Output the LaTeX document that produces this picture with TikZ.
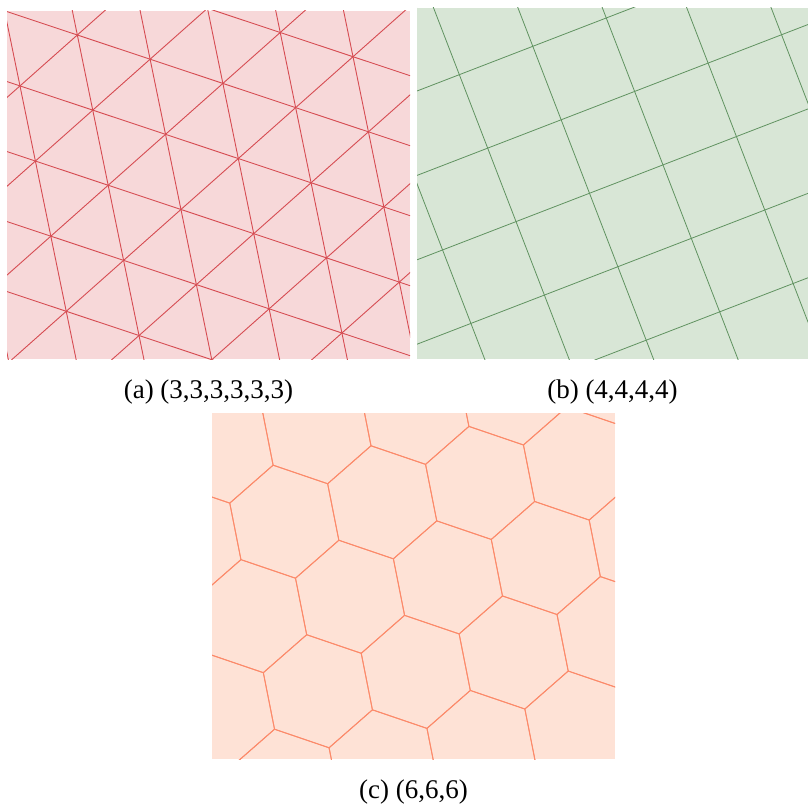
\documentclass[tikz,border=0pt]{standalone}
\usepackage{fontspec}
\setmainfont{Liberation Serif}
\usepackage{tikz}
\definecolor{trifill}{RGB}{247,216,217}
\definecolor{trired}{RGB}{214,76,82}
\definecolor{sqfill}{RGB}{216,230,214}
\definecolor{sqgreen}{RGB}{96,146,96}
\definecolor{hexfill}{RGB}{254,226,214}
\definecolor{hexsalmon}{RGB}{252,138,106}

\begin{document}
\begin{tikzpicture}[
  x=1pt,y=-1pt,
  panel/.style={draw=none,inner sep=0pt,outer sep=0pt,anchor=north west},
  caption/.style={font=\fontsize{27}{31}\selectfont,anchor=base,inner sep=0pt},
  triline/.style={draw=trired,line width=0.9pt},
  sqline/.style={draw=sqgreen,line width=0.8pt},
  hexline/.style={draw=hexsalmon,line width=0.9pt,line join=round}
]
\useasboundingbox (0,0) rectangle (808,805);

% the three panels
\node[panel,fill=trifill,minimum width=403pt,minimum height=348pt] (pa) at (7,11) {};
\node[panel,fill=sqfill,minimum width=391pt,minimum height=351pt] (pb) at (417,8) {};
\node[panel,fill=hexfill,minimum width=403pt,minimum height=346pt] (pc) at (212,413) {};

% (a) triangles
\begin{scope}
  \clip (pa.north west) rectangle (pa.south east);
  \begin{scope}[shift={(77.33,35)},rotate=-18.4]
    \foreach \k in {-10,...,10}{
      \draw[triline] (-700,\k*66.42) -- (700,\k*66.42);
      \draw[triline] (\k*76.7,0) ++(60:-700) -- ++(60:1400);
      \draw[triline] (\k*76.7,0) ++(120:-700) -- ++(120:1400);
    }
  \end{scope}
\end{scope}

% (b) squares
\begin{scope}
  \clip (pb.north west) rectangle (pb.south east);
  \begin{scope}[shift={(459.33,74.67)},rotate=21.1]
    \foreach \k in {-8,...,8}{
      \draw[sqline] (-700,\k*78.75) -- (700,\k*78.75);
      \draw[sqline] (\k*78.75,-700) -- (\k*78.75,700);
    }
  \end{scope}
\end{scope}

% (c) hexagons
\begin{scope}
  \clip (pc.north west) rectangle (pc.south east);
  \begin{scope}[shift={(382.2,502.3)},rotate=11.2]
    \foreach \i in {-5,...,5}{
      \foreach \j in {-3,...,4}{
        \draw[hexline,shift={(\i*99.8+\j*49.9,\j*86.43)}]
          (90:57.6) -- (30:57.6) -- (-30:57.6) -- (-90:57.6)
          -- (-150:57.6) -- (150:57.6) -- cycle;
      }
    }
  \end{scope}
\end{scope}

% captions
\node[caption] (capa) at ([yshift=-39pt]pa.south) {(a) (3,3,3,3,3,3)};
\node[caption] (capb) at ([yshift=-39pt]pb.south) {(b) (4,4,4,4)};
\node[caption] (capc) at ([yshift=-39pt]pc.south) {(c) (6,6,6)};
\end{tikzpicture}
\end{document}
